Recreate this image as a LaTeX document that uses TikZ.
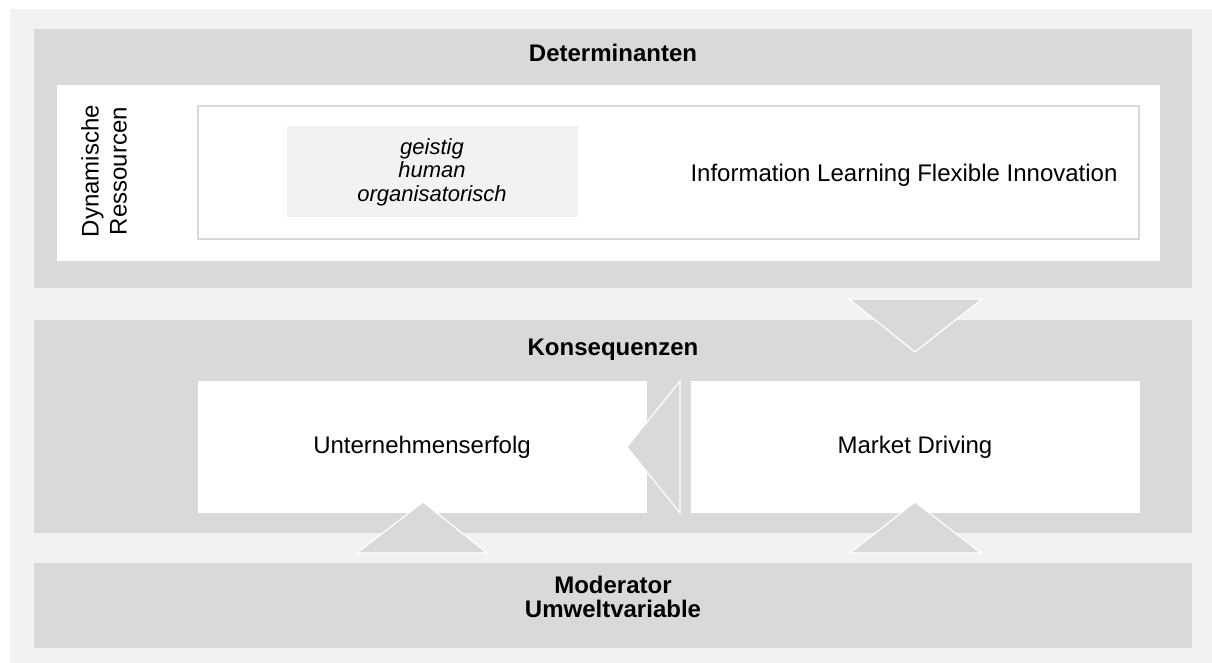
\documentclass[tikz,border=0pt]{standalone}
\usepackage{fontspec}
\setmainfont{Liberation Sans}
\usetikzlibrary{calc}
\definecolor{bglight}{HTML}{F2F2F2}
\definecolor{bandgray}{HTML}{D9D9D9}
\begin{document}
\begin{tikzpicture}
                [x=0.5pt, y=-0.5pt,
                every text node part/.style={align=center},
                band/.style={fill=bandgray},
                panel/.style={fill=white},
                txt/.style={font=\fontsize{12}{14}\selectfont, inner sep=0pt},
                head/.style={txt, font=\fontsize{12}{12}\selectfont\bfseries},
                tri/.style={fill=bandgray, draw=white, line width=0.6pt, line join=miter}]
                \useasboundingbox (0,0) rectangle (1212,663);
                \fill[bglight] (10,9) rectangle (1212,663);
                % determinants
                \fill[band] (34,29) rectangle (1192,288);
                \fill[panel] (57,85) rectangle (1160,261);
                \draw[bandgray, line width=0.75pt, fill=white] (198,106) rectangle (1139,239);
                \fill[bglight] (287,126) rectangle (578,217);
                \node[head] (det) at (613,53) {Determinanten};
                \node[txt, rotate=90] (res) at (104,171) {Dynamische\\Ressourcen};
                \node[txt, font=\fontsize{11}{11.7}\selectfont\itshape] (cap) at (432,172) {geistig\\human\\organisatorisch};
                \node[txt] (cap2) at (904,175) {Information Learning Flexible Innovation};
                % consequences
                \fill[band] (34,320) rectangle (1192,533);
                \fill[panel] (198,381) rectangle (647,513);
                \fill[panel] (691,381) rectangle (1140,513);
                \node[head] (kons) at (613,350) {Konsequenzen};
                \node[txt] (erfolg) at (422,447) {Unternehmenserfolg};
                \node[txt] (driving) at (915,447) {Market Driving};
                % moderator
                \fill[band] (34,563) rectangle (1192,648);
                \node[head] (mod) at (613,597) {Moderator\\Umweltvariable};
                % arrows between the blocks
                \draw[tri] (849,299) -- (982,299) -- (915,352) -- cycle;
                \draw[tri] (680,381) -- (680,513) -- (627,447) -- cycle;
                \draw[tri] (357,553) -- (487,553) -- (423,502) -- cycle;
                \draw[tri] (850,553) -- (981,553) -- (915,502) -- cycle;
            \end{tikzpicture}
\end{document}
